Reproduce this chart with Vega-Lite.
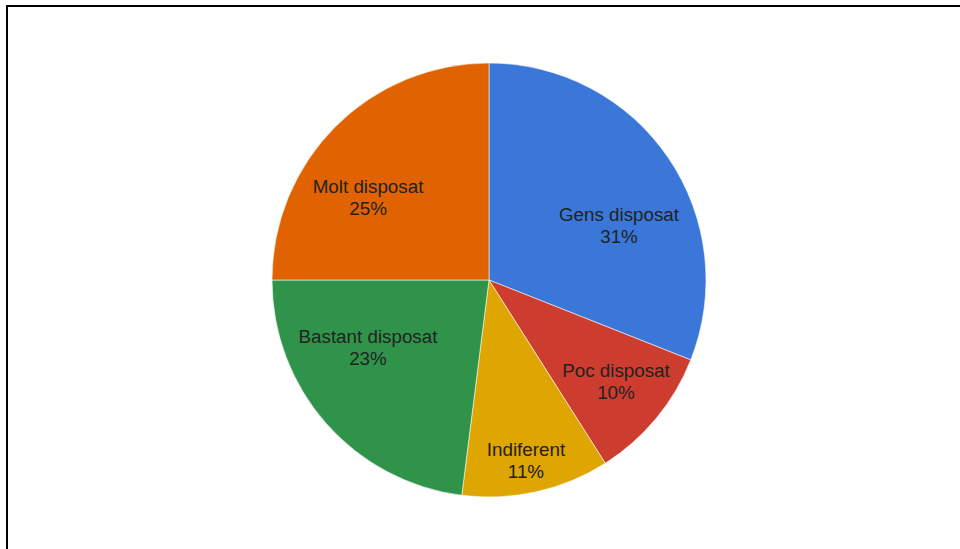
{
  "$schema": "https://vega.github.io/schema/vega-lite/v6.json",
  "autosize": "none",
  "padding": {"left": 7, "top": 6, "right": 0, "bottom": 0},
  "width": 964,
  "height": 548,
  "background": "#ffffff",
  "view": {"stroke": "#000000", "strokeWidth": 2, "fill": "#ffffff"},
  "config": {
    "text": {"font": "Liberation Sans", "fontSize": 18.8, "fill": "#222222", "align": "center", "baseline": "middle"}
  },
  "data": {
    "values": [
      {"answer": "Gens disposat", "share": 0.31, "i": 1},
      {"answer": "Poc disposat", "share": 0.10, "i": 2},
      {"answer": "Indiferent", "share": 0.11, "i": 3},
      {"answer": "Bastant disposat", "share": 0.23, "i": 4},
      {"answer": "Molt disposat", "share": 0.25, "i": 5}
    ]
  },
  "encoding": {
    "theta": {"field": "share", "type": "quantitative", "stack": true},
    "order": {"field": "i", "type": "quantitative"}
  },
  "layer": [
    {
      "mark": {"type": "arc", "outerRadius": 217, "stroke": "#ffffff", "strokeWidth": 0.8, "strokeOpacity": 0.7},
      "encoding": {
        "color": {
          "field": "answer",
          "type": "nominal",
          "scale": {
            "domain": ["Gens disposat", "Poc disposat", "Indiferent", "Bastant disposat", "Molt disposat"],
            "range": ["#3b77d8", "#cd3d2f", "#dfa500", "#2f944a", "#e16200"]
          },
          "legend": null
        }
      }
    },
    {
      "mark": {"type": "text", "radius": 140.6, "thetaOffset": 0.206, "dy": -11},
      "encoding": {
        "text": {"field": "answer"},
        "opacity": {"condition": {"test": "datum.answer === 'Gens disposat'", "value": 1}, "value": 0}
      }
    },
    {
      "mark": {"type": "text", "radius": 140.6, "thetaOffset": 0.206, "dy": 11},
      "encoding": {
        "text": {"field": "share", "format": ".0%"},
        "opacity": {"condition": {"test": "datum.answer === 'Gens disposat'", "value": 1}, "value": 0}
      }
    },
    {
      "mark": {"type": "text", "radius": 162.9, "thetaOffset": -0.014, "dy": -11},
      "encoding": {
        "text": {"field": "answer"},
        "opacity": {"condition": {"test": "datum.answer === 'Poc disposat'", "value": 1}, "value": 0}
      }
    },
    {
      "mark": {"type": "text", "radius": 162.9, "thetaOffset": -0.014, "dy": 11},
      "encoding": {
        "text": {"field": "share", "format": ".0%"},
        "opacity": {"condition": {"test": "datum.answer === 'Poc disposat'", "value": 1}, "value": 0}
      }
    },
    {
      "mark": {"type": "text", "radius": 185.2, "thetaOffset": 0.019, "dy": -11},
      "encoding": {
        "text": {"field": "answer"},
        "opacity": {"condition": {"test": "datum.answer === 'Indiferent'", "value": 1}, "value": 0}
      }
    },
    {
      "mark": {"type": "text", "radius": 185.2, "thetaOffset": 0.019, "dy": 11},
      "encoding": {
        "text": {"field": "share", "format": ".0%"},
        "opacity": {"condition": {"test": "datum.answer === 'Indiferent'", "value": 1}, "value": 0}
      }
    },
    {
      "mark": {"type": "text", "radius": 138.8, "thetaOffset": 0.211, "dy": -11},
      "encoding": {
        "text": {"field": "answer"},
        "opacity": {"condition": {"test": "datum.answer === 'Bastant disposat'", "value": 1}, "value": 0}
      }
    },
    {
      "mark": {"type": "text", "radius": 138.8, "thetaOffset": 0.211, "dy": 11},
      "encoding": {
        "text": {"field": "share", "format": ".0%"},
        "opacity": {"condition": {"test": "datum.answer === 'Bastant disposat'", "value": 1}, "value": 0}
      }
    },
    {
      "mark": {"type": "text", "radius": 146.4, "thetaOffset": -0.187, "dy": -11},
      "encoding": {
        "text": {"field": "answer"},
        "opacity": {"condition": {"test": "datum.answer === 'Molt disposat'", "value": 1}, "value": 0}
      }
    },
    {
      "mark": {"type": "text", "radius": 146.4, "thetaOffset": -0.187, "dy": 11},
      "encoding": {
        "text": {"field": "share", "format": ".0%"},
        "opacity": {"condition": {"test": "datum.answer === 'Molt disposat'", "value": 1}, "value": 0}
      }
    }
  ]
}
